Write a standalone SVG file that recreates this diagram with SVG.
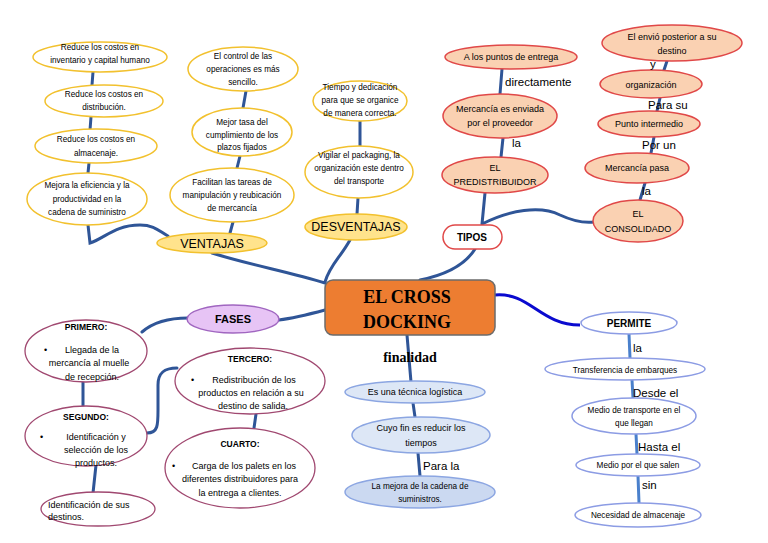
<svg xmlns="http://www.w3.org/2000/svg" width="768" height="543" viewBox="0 0 768 543">
<style>
text{font-family:"Liberation Sans",Arial,sans-serif;fill:#000}
.c{text-anchor:middle}
.s{font-size:8.2px}
.m{font-size:9px}
.lb{font-size:11.5px}
.b{font-weight:bold}
.yl{fill:#fff;stroke:#F2C12E;stroke-width:1.5}
.yh{fill:#FFE38C;stroke:#F2C12E;stroke-width:1.5}
.pe{fill:#FAD1B2;stroke:#E04848;stroke-width:1.5}
.tw{fill:#fff;stroke:#E04848;stroke-width:1.5}
.bl{fill:#DDE7F6;stroke:#8CA6E2;stroke-width:1.5}
.bd{fill:#CBD9F1;stroke:#8CA6E2;stroke-width:1.5}
.pw{fill:#fff;stroke:#8C9CE4;stroke-width:1.5}
.fa{fill:#E7C4F5;stroke:#A066C0;stroke-width:1.5}
.ph{fill:#fff;stroke:#A04870;stroke-width:1.3}
.e{fill:none;stroke:#2F5597;stroke-width:3;stroke-linecap:round}
.ep{fill:none;stroke:#4A80CC;stroke-width:3}
.eb{fill:none;stroke:#0A0ACF;stroke-width:3}
</style>
<rect width="768" height="543" fill="#fff"/>
<g id="connectors">
<path class="e" d="M93,72 L92,85 M91,117 L90,130 M89,163 L88,173 M88,225 L90,243 C105,238 115,225 140,225 C155,225 160,232 168,236"/>
<path class="e" d="M246,91 L243,108 M240,156 L237,168 M233,222 L230,233"/>
<path class="e" d="M212,253 C250,265 290,272 325,283"/>
<path class="e" d="M360,121 L360,146 M358,198 L357,214 M350,240 C340,258 330,265 325,282"/>
<path class="e" d="M502,69 L500,94 M503,138 L501,157 M485,193 L482,224 M482,224 C510,210 540,205 560,215 C575,222 585,223 594,222"/>
<path class="e" d="M475,249 C465,265 445,275 420,280"/>
<path class="e" d="M667,61 L664,70 M660,98 L657,111 M654,137 L651,153 M645,183 L640,200"/>
<path class="e" d="M407,335 L411,382 M413,403 L415,417 M418,453 L420,476"/>
<path class="eb" d="M495,295 C530,292 540,325 580,325"/>
<path class="ep" d="M629,334 L630,358 M632,380 L633,398 M636,434 L637,454 M638,476 L639,503"/>
<path class="e" d="M279,320 C295,318 310,314 325,310 M188,318 C165,318 150,325 142,332"/>
<path class="e" d="M83,382 L83,407 M96,465 L93,493 M147,433 C158,433 158,425 158,410 L158,385 C158,372 165,368 177,368 M256,414 L254,428"/>
</g>
<g id="central">
<rect x="325" y="280" width="170" height="55" rx="8" fill="#ED7D31" stroke="#6B6B6B" stroke-width="1.5"/>
<text class="c b" x="407" y="303" style="font-family:'Liberation Serif',serif;font-size:18px">EL CROSS</text>
<text class="c b" x="407" y="328" style="font-family:'Liberation Serif',serif;font-size:18px">DOCKING</text>
</g>
<g id="v1"><ellipse class="yl" cx="100" cy="57" rx="67" ry="15"/>
<text class="c s" x="100" y="50">Reduce los costos en</text><text class="c s" x="100" y="63">inventario y capital humano</text></g>
<g id="v2"><ellipse class="yl" cx="104" cy="101" rx="59" ry="16"/>
<text class="c s" x="104" y="97">Reduce los costos en</text><text class="c s" x="104" y="110">distribución.</text></g>
<g id="v3"><ellipse class="yl" cx="96" cy="146" rx="61" ry="17"/>
<text class="c s" x="96" y="142">Reduce los costos en</text><text class="c s" x="96" y="156">almacenaje.</text></g>
<g id="v4"><ellipse class="yl" cx="87" cy="199" rx="60" ry="26"/>
<text class="c s" x="87" y="188">Mejora la eficiencia y la</text><text class="c s" x="87" y="202">productividad en la</text><text class="c s" x="87" y="215">cadena de suministro</text></g>
<g id="v5"><ellipse class="yl" cx="243" cy="69" rx="55" ry="22"/>
<text class="c s" x="243" y="59">El control de las</text><text class="c s" x="243" y="72">operaciones es más</text><text class="c s" x="243" y="85">sencillo.</text></g>
<g id="v6"><ellipse class="yl" cx="242" cy="132" rx="50" ry="24"/>
<text class="c s" x="242" y="125">Mejor tasa del</text><text class="c s" x="242" y="138">cumplimiento de los</text><text class="c s" x="242" y="150">plazos fijados</text></g>
<g id="v7"><ellipse class="yl" cx="232" cy="195" rx="62" ry="27"/>
<text class="c s" x="232" y="185">Facilitan las tareas de</text><text class="c s" x="232" y="198">manipulación y reubicación</text><text class="c s" x="232" y="211">de mercancía</text></g>
<g id="ventajas"><ellipse class="yh" cx="212" cy="243" rx="55" ry="10"/>
<text class="c" x="212" y="248" style="font-size:12.5px">VENTAJAS</text></g>
<g id="d1"><ellipse class="yl" cx="360" cy="101" rx="47" ry="20"/>
<text class="c s" x="360" y="90">Tiempo y dedicación</text><text class="c s" x="360" y="103">para que se organice</text><text class="c s" x="360" y="116">de manera correcta.</text></g>
<g id="d2"><ellipse class="yl" cx="359" cy="172" rx="54" ry="26"/>
<text class="c s" x="359" y="158">Vigilar el packaging, la</text><text class="c s" x="359" y="171">organización este dentro</text><text class="c s" x="359" y="184">del transporte</text></g>
<g id="desventajas"><ellipse class="yh" cx="356" cy="227" rx="51" ry="13"/>
<text class="c" x="356" y="231" style="font-size:12.5px">DESVENTAJAS</text></g>
<g id="t1"><ellipse class="pe" cx="511" cy="57" rx="66" ry="12"/>
<text class="c m" x="511" y="60">A los puntos de entrega</text></g>
<g id="t2"><ellipse class="pe" cx="500" cy="116" rx="57" ry="22"/>
<text class="c m" x="500" y="112">Mercancía es enviada</text><text class="c m" x="500" y="126">por el proveedor</text></g>
<g id="t3"><ellipse class="pe" cx="495" cy="175" rx="53" ry="18"/>
<text class="c m" x="495" y="171">EL</text><text class="c m" x="495" y="185">PREDISTRIBUIDOR</text></g>
<g id="tipos"><rect class="tw" x="443" y="225" width="59" height="24" rx="12"/>
<text class="c b" x="472" y="241" style="font-size:10px">TIPOS</text></g>
<g id="r1"><ellipse class="pe" cx="672" cy="43" rx="70" ry="18"/>
<text class="c m" x="672" y="40">El envió posterior a su</text><text class="c m" x="672" y="54">destino</text></g>
<g id="r2"><ellipse class="pe" cx="651" cy="84" rx="51" ry="14"/>
<text class="c m" x="651" y="88">organización</text></g>
<g id="r3"><ellipse class="pe" cx="649" cy="124" rx="51" ry="13"/>
<text class="c m" x="649" y="127">Punto intermedio</text></g>
<g id="r4"><ellipse class="pe" cx="637" cy="168" rx="52" ry="15"/>
<text class="c m" x="637" y="171">Mercancía pasa</text></g>
<g id="r5"><ellipse class="pe" cx="638" cy="221" rx="45" ry="21"/>
<text class="c m" x="638" y="217">EL</text><text class="c m" x="638" y="232">CONSOLIDADO</text></g>
<g id="f1"><ellipse class="bl" cx="415" cy="392" rx="70" ry="11"/>
<text class="c m" x="415" y="395">Es una técnica logística</text></g>
<g id="f2"><ellipse class="bl" cx="421" cy="435" rx="69" ry="18"/>
<text class="c m" x="421" y="431">Cuyo fin es reducir los</text><text class="c m" x="421" y="446">tiempos</text></g>
<g id="f3"><ellipse class="bd" cx="420" cy="492" rx="75" ry="16"/>
<text class="c s" x="420" y="489">La mejora de la cadena de</text><text class="c s" x="420" y="502">suministros.</text></g>
<g id="permite"><ellipse class="pw" cx="629" cy="323" rx="48" ry="11"/>
<text class="c b" x="629" y="327" style="font-size:10px">PERMITE</text></g>
<g id="p1"><ellipse class="pw" cx="625" cy="369" rx="80" ry="11"/>
<text class="c s" x="625" y="373">Transferencia de embarques</text></g>
<g id="p2"><ellipse class="pw" cx="634" cy="416" rx="62" ry="18"/>
<text class="c s" x="634" y="413">Medio de transporte en el</text><text class="c s" x="634" y="426">que llegan</text></g>
<g id="p3"><ellipse class="pw" cx="638" cy="465" rx="62" ry="11"/>
<text class="c s" x="638" y="468">Medio por el que salen</text></g>
<g id="p4"><ellipse class="pw" cx="638" cy="515" rx="63" ry="12"/>
<text class="c s" x="638" y="518">Necesidad de almacenaje</text></g>
<g id="fases"><ellipse class="fa" cx="233" cy="319" rx="46" ry="14"/>
<text class="c b" x="233" y="323" style="font-size:11px">FASES</text></g>
<g id="primero"><ellipse class="ph" cx="86" cy="351" rx="61" ry="31"/>
<text class="c b" x="86" y="330" style="font-size:8.5px">PRIMERO:</text>
<text class="m" x="44" y="353">•</text>
<text class="c m" x="92" y="353">Llegada de la</text><text class="c m" x="89" y="366">mercancía al muelle</text><text class="c m" x="92" y="380">de recepción.</text></g>
<g id="segundo"><ellipse class="ph" cx="86" cy="436" rx="61" ry="30"/>
<text class="c b" x="86" y="420" style="font-size:8.5px">SEGUNDO:</text>
<text class="m" x="40" y="440">•</text>
<text class="c m" x="96" y="440">Identificación y</text><text class="c m" x="96" y="453">selección de los</text><text class="c m" x="96" y="466">productos.</text></g>
<g id="destinos"><ellipse class="ph" cx="98" cy="509" rx="57" ry="17"/>
<text class="m" x="48" y="508">Identificación de sus</text><text class="m" x="48" y="520">destinos.</text></g>
<g id="tercero"><ellipse class="ph" cx="250" cy="381" rx="75" ry="33"/>
<text class="c b" x="250" y="362" style="font-size:8.5px">TERCERO:</text>
<text class="m" x="191" y="383">•</text>
<text class="c m" x="254" y="383">Redistribución de los</text><text class="c m" x="251" y="396">productos en relación a su</text><text class="c m" x="253" y="409">destino de salida.</text></g>
<g id="cuarto"><ellipse class="ph" cx="240" cy="468" rx="75" ry="40"/>
<text class="c b" x="240" y="447" style="font-size:8.5px">CUARTO:</text>
<text class="m" x="172" y="469">•</text>
<text class="c m" x="244" y="469">Carga de los palets en los</text><text class="c m" x="240" y="482">diferentes distribuidores para</text><text class="c m" x="240" y="496">la entrega a clientes.</text></g>
<g id="labels">
<text class="lb" x="505" y="86">directamente</text>
<text class="lb" x="512" y="147">la</text>
<text class="lb" x="650" y="68">y</text>
<text class="lb" x="648" y="109">Para su</text>
<text class="lb" x="642" y="149">Por un</text>
<text class="lb" x="642" y="195">la</text>
<text class="c b" x="410" y="362" style="font-family:'Liberation Serif',serif;font-size:14px">finalidad</text>
<text class="lb" x="423" y="470">Para la</text>
<text class="lb" x="633" y="352">la</text>
<text class="lb" x="633" y="397">Desde el</text>
<text class="lb" x="638" y="451">Hasta el</text>
<text class="lb" x="642" y="489">sin</text>
</g>
</svg>
